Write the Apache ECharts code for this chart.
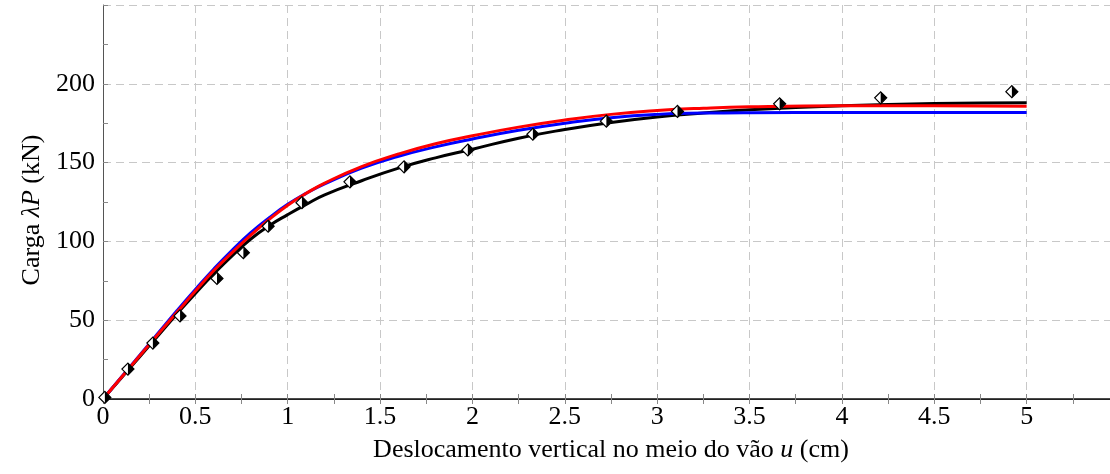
<!DOCTYPE html>
<html>
<head>
	<meta charset="utf-8" />
	<title>Carga x deslocamento</title>
	<script src="https://cdn.jsdelivr.net/npm/echarts@6/dist/echarts.min.js"></script>
	<style>
		html, body { margin: 0; padding: 0; background: #fff; overflow: hidden; }
		#chart { width: 1119px; height: 474px; }
	</style>
</head>
<body>
	<div id="chart"></div>
	<script type="text/javascript">
		// deslocamento u (cm) para as curvas
		const curveX = [0, 0.1, 0.2, 0.3, 0.4, 0.5, 0.6, 0.7, 0.8, 0.9, 1.0, 1.1, 1.2, 1.4, 1.6, 1.8, 2.0, 2.25, 2.5, 2.75, 3.0, 3.25, 3.5, 4.0, 4.5, 5.0];
		// curva preta
		const blackY = [0, 13.5, 27, 40.5, 54, 67, 79.5, 91, 101.5, 110, 117, 123.5, 129.5, 138.5, 146.5, 153, 158.5, 165.5, 171, 175.5, 179, 181.5, 183.5, 186, 187.5, 188];
		// curva azul
		const blueY = [0, 14, 28, 42, 56, 69.5, 82.5, 94.5, 105.5, 115, 123.5, 130.5, 136.5, 146.5, 154, 160, 165, 170.5, 175, 178.5, 180.6, 181.4, 181.7, 181.8, 181.8, 181.8];
		// curva vermelha
		const redY = [0, 13.8, 27.6, 41.4, 55, 68.5, 81.5, 93, 104, 114, 123, 130.5, 137, 147.5, 155.5, 162, 167, 172.5, 177, 180.6, 183, 184.5, 185.4, 186, 186, 185.7];
		// pontos experimentais
		const markX = [0.01, 0.135, 0.27, 0.417, 0.617, 0.76, 0.894, 1.077, 1.337, 1.63, 1.975, 2.327, 2.725, 3.11, 3.663, 4.21, 4.92];
		const markY = [1, 19, 35.5, 52.7, 76.5, 92.8, 109.6, 124.6, 137.8, 147.3, 158, 168, 176.3, 182.5, 187.3, 191.1, 195];
		// eixos
		const xTicks = [0, 0.5, 1, 1.5, 2, 2.5, 3, 3.5, 4, 4.5, 5];
		const yTicks = [0, 50, 100, 150, 200];

		const pairs = function (xs, ys) {
			return xs.map(function (x, i) { return [x, ys[i]]; });
		};

		const chart = echarts.init(document.getElementById("chart"));
		const fontFam = "Liberation Serif";
		const gridLine = { show: true, lineStyle: { color: "#c8c8c8", width: 1, type: [8, 5] } };
		const nameRich = {
			n: { fontFamily: fontFam, fontSize: 26, color: "#000" },
			i: { fontFamily: fontFam, fontSize: 26, color: "#000", fontStyle: "italic" }
		};

		const lineSeries = function (name, ys, color) {
			return {
				name: name,
				type: "line",
				data: pairs(curveX, ys),
				smooth: true,
				showSymbol: false,
				lineStyle: { color: color, width: 3 },
				z: 3
			};
		};

		const option = {
			animation: false,
			textStyle: { fontFamily: fontFam },
			grid: { left: 103, right: 0, top: 5, bottom: 75 },
			xAxis: [{
				type: "value",
				min: 0,
				max: 5.5,
				interval: 0.5,
				name: "{n|Deslocamento vertical no meio do vão }{i|u}{n| (cm)}",
				nameLocation: "middle",
				nameGap: 38,
				nameTextStyle: { rich: nameRich },
				axisLine: { show: true, onZero: false, lineStyle: { color: "#555", width: 1 } },
				axisTick: { inside: true, length: 5, lineStyle: { color: "#888" } },
				minorTick: { show: true, splitNumber: 2, length: 5, lineStyle: { color: "#888" } },
				axisLabel: {
					fontFamily: fontFam, fontSize: 26, color: "#000", margin: 5,
					showMaxLabel: false,
					formatter: function (v) { return xTicks.indexOf(v) >= 0 ? String(v) : ""; }
				},
				splitLine: gridLine
			}, {
				type: "value",
				position: "top",
				min: 0,
				max: 5.5,
				interval: 0.5,
				axisLine: { show: true, lineStyle: { color: "#111", width: 1.5 } },
				axisTick: { inside: true, length: 5, lineStyle: { color: "#888" } },
				minorTick: { show: true, splitNumber: 2, length: 5, lineStyle: { color: "#888" } },
				axisLabel: { show: false },
				splitLine: { show: false }
			}],
			yAxis: {
				type: "value",
				min: 0,
				max: 250,
				interval: 50,
				name: "{n|Carga }{i|λP}{n| (kN)}",
				nameLocation: "middle",
				nameGap: 58,
				nameTextStyle: { rich: nameRich, padding: [0, 16, 0, 0] },
				axisLine: { show: true, lineStyle: { color: "#555", width: 1 } },
				axisTick: { inside: true, length: 5, lineStyle: { color: "#888" } },
				minorTick: { show: true, splitNumber: 2, length: 5, lineStyle: { color: "#888" } },
				axisLabel: {
					fontFamily: fontFam, fontSize: 26, color: "#000", margin: 8,
					showMaxLabel: false,
					formatter: function (v) { return yTicks.indexOf(v) >= 0 ? String(v) : ""; }
				},
				splitLine: gridLine
			},
			series: [
				lineSeries("preta", blackY, "#000000"),
				lineSeries("azul", blueY, "#0000ff"),
				lineSeries("vermelha", redY, "#ff0000"),
				{
					name: "experimental",
					type: "scatter",
					data: pairs(markX, markY),
					symbol: "diamond",
					symbolSize: [12, 12],
					itemStyle: { color: "#fff", borderColor: "#000", borderWidth: 1.2, opacity: 1 },
					z: 5
				},
				{
					name: "experimental-meio",
					type: "scatter",
					data: pairs(markX, markY),
					symbol: "path://M0,0L1,1L0,2Z",
					symbolKeepAspect: false,
					symbolSize: [6, 12],
					symbolOffset: [3, 0],
					itemStyle: { color: "#000", opacity: 1 },
					z: 6
				}
			]
		};
		chart.setOption(option);
	</script>
</body>
</html>
